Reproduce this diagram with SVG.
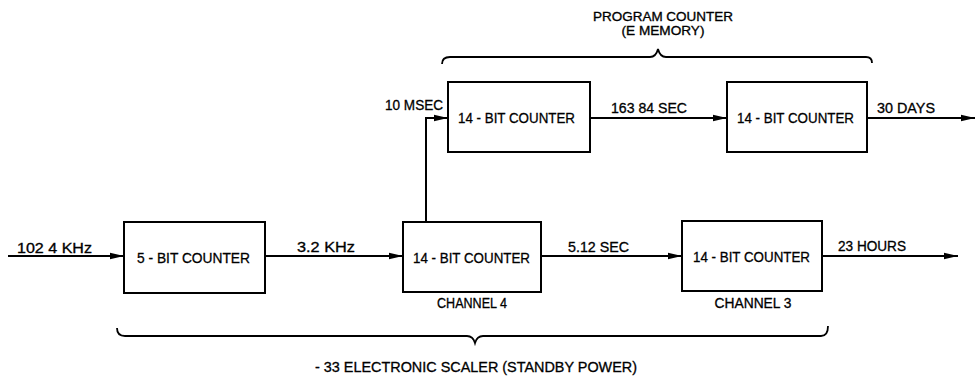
<svg xmlns="http://www.w3.org/2000/svg" width="977" height="377" viewBox="0 0 977 377">
<style>
.box{fill:#fff;stroke:#000;stroke-width:2}
.ln{fill:none;stroke:#000;stroke-width:2}
.br{fill:none;stroke:#000;stroke-width:1.8}
text{font-family:"Liberation Sans","DejaVu Sans",sans-serif;font-size:14px;fill:#000;stroke:#000;stroke-width:0.3}
.bt{font-size:15px}
.sm{font-size:12px}
.c{text-anchor:middle}
</style>
<defs>
<marker id="ah" viewBox="0 0 14 8" refX="14" refY="4" markerWidth="14" markerHeight="8" markerUnits="userSpaceOnUse" orient="auto">
<path d="M0,0.8 L14,4 L0,7.2 Z" fill="#000"/>
</marker>
</defs>
<rect width="977" height="377" fill="#fff"/>
<g id="connectors">
<line class="ln" x1="8" y1="256" x2="124" y2="256" marker-end="url(#ah)"/>
<line class="ln" x1="265" y1="256" x2="403" y2="256" marker-end="url(#ah)"/>
<line class="ln" x1="541" y1="256" x2="682" y2="256" marker-end="url(#ah)"/>
<line class="ln" x1="822" y1="256" x2="958" y2="256" marker-end="url(#ah)"/>
<polyline class="ln" points="426,222 426,118 448,118" marker-end="url(#ah)"/>
<line class="ln" x1="590" y1="118" x2="727" y2="118" marker-end="url(#ah)"/>
<line class="ln" x1="867" y1="118" x2="975" y2="118" marker-end="url(#ah)"/>
<text x="17" y="253" textLength="75" lengthAdjust="spacingAndGlyphs">102 4 KHz</text>
<text x="297" y="252" textLength="58" lengthAdjust="spacingAndGlyphs">3.2 KHz</text>
<text x="568" y="252" textLength="61" lengthAdjust="spacingAndGlyphs">5.12 SEC</text>
<text x="838" y="251" textLength="68" lengthAdjust="spacingAndGlyphs">23 HOURS</text>
<text x="385" y="110" textLength="58" lengthAdjust="spacingAndGlyphs">10 MSEC</text>
<text x="611" y="113" textLength="76" lengthAdjust="spacingAndGlyphs">163 84 SEC</text>
<text x="877" y="113" textLength="58" lengthAdjust="spacingAndGlyphs">30 DAYS</text>
</g>
<g id="n5bit">
<rect class="box" x="124" y="222" width="141" height="71"/>
<text class="bt" x="137" y="263" textLength="113" lengthAdjust="spacingAndGlyphs">5 - BIT COUNTER</text>
</g>
<g id="nch4">
<rect class="box" x="403" y="222" width="138" height="70"/>
<text class="bt" x="413" y="263" textLength="117" lengthAdjust="spacingAndGlyphs">14 - BIT COUNTER</text>
<text x="472" y="308" class="c" textLength="70" lengthAdjust="spacingAndGlyphs">CHANNEL 4</text>
</g>
<g id="nch3">
<rect class="box" x="682" y="221" width="140" height="70"/>
<text class="bt" x="693" y="262" textLength="117" lengthAdjust="spacingAndGlyphs">14 - BIT COUNTER</text>
<text x="753" y="308" class="c" textLength="77" lengthAdjust="spacingAndGlyphs">CHANNEL 3</text>
</g>
<g id="nprog1">
<rect class="box" x="448" y="82" width="142" height="70"/>
<text class="bt" x="458" y="123" textLength="117" lengthAdjust="spacingAndGlyphs">14 - BIT COUNTER</text>
</g>
<g id="nprog2">
<rect class="box" x="727" y="82" width="140" height="70"/>
<text class="bt" x="737" y="123" textLength="117" lengthAdjust="spacingAndGlyphs">14 - BIT COUNTER</text>
</g>
<g id="progbrace">
<path class="br" d="M442,64 Q442,57 450,57 L650,57 Q656,57 658,49 Q660,57 666,57 L866,57 Q872,57 872,63"/>
<text x="663" y="21" class="c sm" textLength="140" lengthAdjust="spacingAndGlyphs">PROGRAM COUNTER</text>
<text x="663" y="35" class="c sm" textLength="83" lengthAdjust="spacingAndGlyphs">(E MEMORY)</text>
</g>
<g id="scalerbrace">
<path class="br" d="M117,328 Q117,336 125,336 L467,336 Q473,336 475,343 Q477,336 483,336 L821,336 Q828,336 828,326"/>
<text x="476" y="372" class="c" textLength="322" lengthAdjust="spacingAndGlyphs">- 33 ELECTRONIC SCALER (STANDBY POWER)</text>
</g>
</svg>
